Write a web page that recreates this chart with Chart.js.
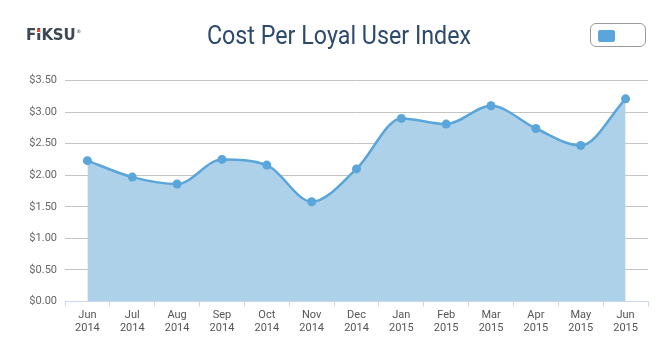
<!DOCTYPE html>
<html><head><meta charset="utf-8">
<script src="https://cdn.jsdelivr.net/npm/chart.js@4/dist/chart.umd.min.js"></script>
<style>
html,body{margin:0;padding:0;background:#fff;}
#wrap{position:relative;width:663px;height:357px;overflow:hidden;}
#logo{position:absolute;left:26px;top:26px;font:bold 15px "DejaVu Sans",sans-serif;color:#3d4852;letter-spacing:-0.2px;line-height:18px;white-space:nowrap;}
#logo .i{position:relative;display:inline-block;}
#logo .i::before{content:"";position:absolute;left:0.8px;right:1.2px;top:3px;height:4px;background:#fff;}
#logo .i::after{content:"";position:absolute;left:0.8px;right:1.2px;top:3px;height:2.8px;background:#e8472c;}
#logo .r{display:inline-block;font-size:5px;font-weight:normal;position:relative;top:-7px;margin-left:0.8px;line-height:5px;vertical-align:baseline;}
#title{position:absolute;left:0;width:678px;text-align:center;top:20px;font:26px Roboto,sans-serif;color:#2c4a6c;transform:scaleX(0.895);transform-origin:339px 0;line-height:30px;}
#leg{position:absolute;left:590px;top:23px;width:56px;height:24px;border:1px solid #9a9a9a;border-radius:6px;box-sizing:border-box;}
#sw{position:absolute;left:7px;top:5.5px;width:16.5px;height:12.5px;background:#5aa5da;border-radius:2px;}
canvas{position:absolute;left:0;top:0;}
</style></head>
<body><div id="wrap"><canvas id="c" width="663" height="357"></canvas>
<div id="logo">F<span class="i">I</span>KSU<span class="r">®</span></div><div id="title">Cost Per Loyal User Index</div>
<div id="leg"><div id="sw"></div></div></div>
<script>
const months = ['Jun','Jul','Aug','Sep','Oct','Nov','Dec','Jan','Feb','Mar','Apr','May','Jun'];
const years = ['2014','2014','2014','2014','2014','2014','2014','2015','2015','2015','2015','2015','2015'];
const costPerLoyalUser = [2.23, 1.97, 1.86, 2.25, 2.16, 1.58, 2.10, 2.90, 2.81, 3.10, 2.74, 2.47, 3.21];
const yTicks = [0, 0.5, 1, 1.5, 2, 2.5, 3, 3.5];

const labels = months.map((m, i) => [m, years[i]]);
new Chart(document.getElementById('c'), {
  type: 'line',
  data: { labels, datasets: [{
    label: '',
    data: costPerLoyalUser,
    borderColor: '#5aa5da', backgroundColor: '#acd1e9',
    borderWidth: 2.5, fill: 'origin', cubicInterpolationMode: 'monotone',
    pointRadius: 4.5, pointBackgroundColor: '#5aa5da', pointBorderWidth: 0
  }]},
  options: {
    responsive: false, animation: false,
    layout: { padding: { top: 80.5, right: 15, left: 0, bottom: 0 } },
    plugins: { legend: { display: false }, tooltip: { enabled: false } },
    scales: {
      x: {
        offset: true,
        grid: { offset: true, drawOnChartArea: false, drawTicks: true, tickLength: 5, color: '#ccd6eb' },
        border: { color: '#ccd6eb' },
        ticks: { color: '#555', font: { family: 'Roboto', size: 11 }, padding: 2, maxRotation: 0, autoSkip: false },
        afterFit: s => { s.height = 55.5; }
      },
      y: {
        min: 0, max: 3.5,
        afterBuildTicks: s => { s.ticks = yTicks.map(v => ({ value: v })); },
        grid: { color: '#c4c4c4', drawTicks: false },
        border: { display: false },
        ticks: { color: '#666', font: { family: 'Roboto', size: 11 }, padding: 8, callback: v => '$' + Number(v).toFixed(2) },
        afterFit: s => { s.width = 65; }
      }
    }
  }
});
</script></body></html>
